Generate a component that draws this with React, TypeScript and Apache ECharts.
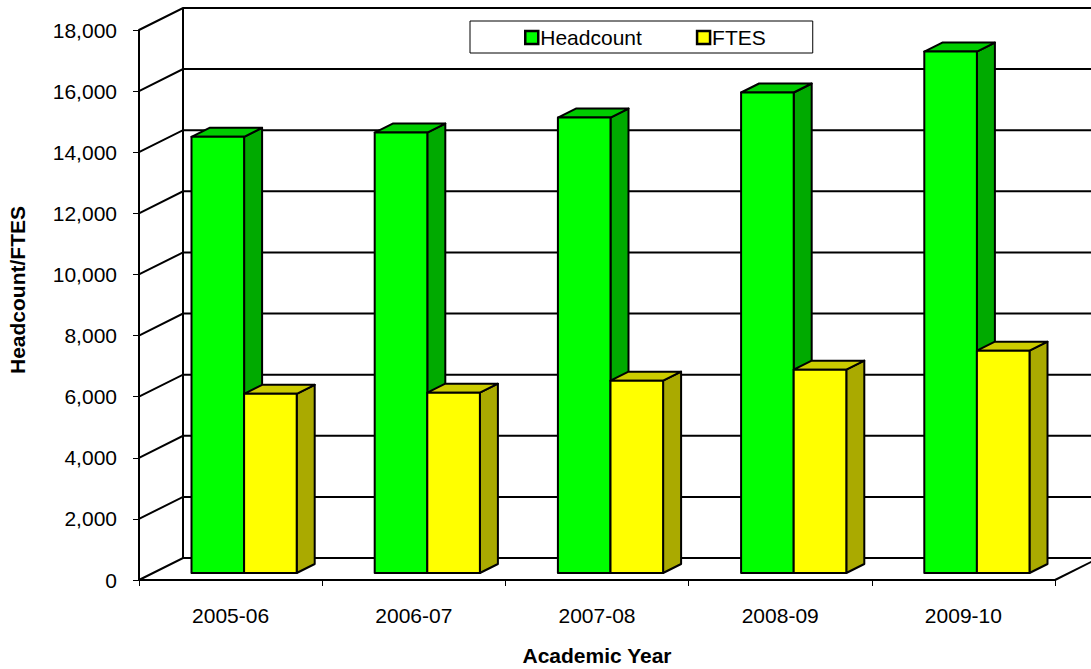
import React, { useEffect, useRef } from "react";
import * as echarts from "echarts";

const categories = ["2005-06", "2006-07", "2007-08", "2008-09", "2009-10"];
const headcount = [14275, 14415, 14905, 15725, 17065];
const ftes = [5865, 5900, 6295, 6655, 7275];
const yTicks = [0, 2000, 4000, 6000, 8000, 10000, 12000, 14000, 16000, 18000];

const FONT = "'Liberation Sans', Arial, sans-serif";
const WALL_DX = 44;
const WALL_DY = -22;
const BAR_OFF_X = 13.5;
const BAR_OFF_Y = -7;
const BAR_DX = 18;
const BAR_DY = -9;
const BAR_W = 52.6;
const BLACK = "#000000";

function barItem(front: string, top: string, side: string, slot: number) {
  return (_params: any, api: any) => {
    const cat = api.value(0);
    const p = api.coord([cat, api.value(1)]);
    const base = api.coord([cat, 0]);
    const x0 = p[0] + slot * BAR_W + BAR_OFF_X;
    const x1 = x0 + BAR_W;
    const yt = p[1] + BAR_OFF_Y;
    const yb = base[1] + BAR_OFF_Y;
    const line = { stroke: BLACK, lineWidth: 2, lineJoin: "round" };
    return {
      type: "group",
      children: [
        {
          type: "polygon",
          shape: { points: [[x1, yt], [x1 + BAR_DX, yt + BAR_DY], [x1 + BAR_DX, yb + BAR_DY], [x1, yb]] },
          style: { fill: side, ...line },
        },
        {
          type: "polygon",
          shape: { points: [[x0, yt], [x0 + BAR_DX, yt + BAR_DY], [x1 + BAR_DX, yt + BAR_DY], [x1, yt]] },
          style: { fill: top, ...line },
        },
        {
          type: "rect",
          shape: { x: x0, y: yt, width: BAR_W, height: yb - yt },
          style: { fill: front, ...line },
        },
      ],
    };
  };
}

function wallItem(params: any, api: any) {
  const cs = params.coordSys;
  const v = api.value(0);
  const y = api.coord([0, v])[1];
  const left = cs.x;
  const right = cs.x + cs.width;
  const line = { stroke: BLACK, lineWidth: 2, fill: "none" };
  const children: any[] = [
    {
      type: "polyline",
      shape: { points: [[left, y], [left + WALL_DX, y + WALL_DY], [right + WALL_DX, y + WALL_DY]] },
      style: line,
    },
  ];
  if (v === 0) {
    children.push(
      {
        type: "line",
        shape: { x1: left + WALL_DX, y1: cs.y + WALL_DY, x2: left + WALL_DX, y2: y + WALL_DY },
        style: line,
      },
      {
        type: "line",
        shape: { x1: right, y1: y, x2: right + WALL_DX, y2: y + WALL_DY },
        style: line,
      }
    );
  }
  return { type: "group", children };
}

export default function App() {
  const ref = useRef<HTMLDivElement>(null);
  useEffect(() => {
    const chart = echarts.init(ref.current!, undefined, { renderer: "svg" });
    const textStyle = { fontFamily: FONT, fontSize: 21, color: BLACK };
    chart.setOption({
      animation: false,
      backgroundColor: "#ffffff",
      legend: {
        left: 470,
        top: 21,
        orient: "horizontal",
        backgroundColor: "#ffffff",
        borderColor: BLACK,
        borderWidth: 1,
        padding: [6, 47, 5, 54],
        itemWidth: 13,
        itemHeight: 13,
        itemGap: 54,
        textStyle: { ...textStyle, padding: [0, 0, 0, -3] },
        data: [
          { name: "Headcount", icon: "rect", itemStyle: { color: "#00ff00", borderColor: BLACK, borderWidth: 2.5 } },
          { name: "FTES", icon: "rect", itemStyle: { color: "#ffff00", borderColor: BLACK, borderWidth: 2.5 } },
        ],
      },
      grid: { left: 139, top: 30, width: 916, height: 550, containLabel: false, outerBoundsMode: "none" },
      xAxis: {
        type: "category",
        data: categories,
        name: "Academic Year",
        nameLocation: "middle",
        nameGap: 65,
        nameTextStyle: { fontFamily: FONT, fontSize: 21, fontWeight: "bold", color: BLACK },
        axisLine: { lineStyle: { color: BLACK, width: 2 } },
        axisTick: { show: true, length: 6, alignWithLabel: false, lineStyle: { color: BLACK, width: 1 } },
        axisLabel: { ...textStyle, margin: 25 },
        splitLine: { show: false },
      },
      yAxis: {
        type: "value",
        min: 0,
        max: 18000,
        interval: 2000,
        name: "Headcount/FTES",
        nameLocation: "middle",
        nameGap: 111,
        nameTextStyle: { fontFamily: FONT, fontSize: 21, fontWeight: "bold", color: BLACK, padding: [0, 0, 0, 30] },
        axisLine: { show: true, lineStyle: { color: BLACK, width: 2 } },
        axisTick: { show: true, length: 6, lineStyle: { color: BLACK, width: 1 } },
        axisLabel: {
          ...textStyle,
          margin: 22,
          formatter: (v: number) => v.toLocaleString("en-US"),
        },
        splitLine: { show: false },
      },
      series: [
        {
          name: "walls",
          type: "custom",
          coordinateSystem: "cartesian2d",
          silent: true,
          z: 1,
          data: yTicks.map((v) => [v]),
          encode: { y: 0 },
          renderItem: wallItem,
        },
        {
          name: "Headcount",
          type: "custom",
          coordinateSystem: "cartesian2d",
          z: 2,
          data: categories.map((_, i) => [i, headcount[i]]),
          encode: { x: 0, y: 1 },
          renderItem: barItem("#00ff00", "#00cc00", "#00aa00", -1),
        },
        {
          name: "FTES",
          type: "custom",
          coordinateSystem: "cartesian2d",
          z: 3,
          data: categories.map((_, i) => [i, ftes[i]]),
          encode: { x: 0, y: 1 },
          renderItem: barItem("#ffff00", "#cccc00", "#aaaa00", 0),
        },
      ],
    });
    return () => chart.dispose();
  }, []);
  return (
    <div
      ref={ref}
      style={{ position: "absolute", left: 0, top: 0, width: 1091, height: 669 }}
    />
  );
}
